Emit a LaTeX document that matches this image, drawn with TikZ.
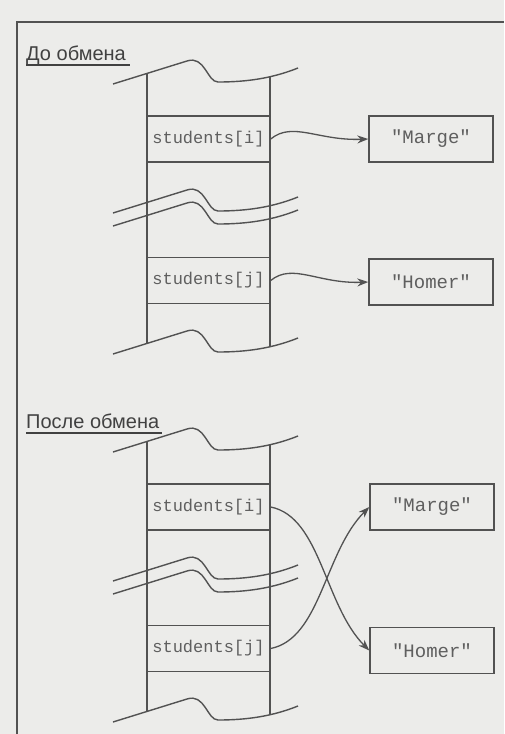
\documentclass[tikz,border=0pt]{standalone}
\usepackage{fontspec}
\setmainfont{Liberation Sans}
\setmonofont{Liberation Mono}
\usetikzlibrary{arrows.meta,positioning,calc}
\definecolor{Paper}{RGB}{236,236,234}
\definecolor{Ink}{RGB}{82,82,82}
\definecolor{MonoGray}{RGB}{95,95,95}
\definecolor{Caption}{RGB}{65,65,65}
\tikzset{
  cell/.style={draw=Ink,line width=1.4pt,minimum width=123pt,minimum height=46pt,inner sep=0pt,font=\ttfamily\fontsize{17}{17}\selectfont,text=MonoGray},
  strbox/.style={draw=Ink,line width=1.4pt,minimum width=124pt,minimum height=46pt,inner sep=0pt,font=\ttfamily\fontsize{19}{19}\selectfont,text=MonoGray},
  caption/.style={font=\fontsize{20}{20}\selectfont,text=Caption,inner sep=0pt,anchor=base west},
  uline/.style={draw=Caption,line width=1.2pt},
  column/.style={draw=Ink,line width=1.4pt},
  frame/.style={draw=Ink,line width=1.3pt},
  ref/.style={-{Stealth[length=11pt,width=8pt]},draw=Ink,line width=1.3pt},
  brk/.pic={\draw[column] (0,0) -- (74,-23) .. controls (92,-29) and (94,-2) .. (105,-2) .. controls (135,-2) and (160,-6) .. (185,-16);}
}
\begin{document}
\begin{tikzpicture}[x=1pt,y=-1pt]
\fill[Paper] (0,0) rectangle (504,734);
\useasboundingbox (0,0) rectangle (504,734);
\draw[frame] (17,734) |- (504,22);

% before the swap
\node[caption] (before) at (26,60) {До обмена};
\draw[uline] ($(before.base west)+(0,5)$) -- ($(before.base east)+(4,5)$);
\pic at (113,84) {brk};
\pic at (113,213) {brk};
\pic at (113,226) {brk};
\pic at (113,354) {brk};
\draw[column] (147,73.4) -- (147,343.4);
\draw[column] (270,76) -- (270,346);
\node[cell] (si1) at (208.5,139) {students[i]};
\node[cell] (sj1) at (208.5,280.5) {students[j]};
\node[strbox] (marge1) at (431,139) {"Marge"};
\node[strbox] (homer1) at (431,282) {"Homer"};
\draw[ref] (si1.east) .. controls +(22,-18) and +(-50,2) .. (marge1.west);
\draw[ref] (sj1.east) .. controls +(22,-18) and +(-50,2) .. (homer1.west);

% after the swap
\node[caption] (after) at (26,428) {После обмена};
\draw[uline] ($(after.base west)+(0,5)$) -- ($(after.base east)+(3,5)$);
\pic at (113,452) {brk};
\pic at (113,581) {brk};
\pic at (113,594) {brk};
\pic at (113,722) {brk};
\draw[column] (147,441.4) -- (147,711.4);
\draw[column] (270,444) -- (270,714);
\node[cell] (si2) at (208.5,507) {students[i]};
\node[cell] (sj2) at (208.5,648.5) {students[j]};
\node[strbox] (marge2) at (432,507) {"Marge"};
\node[strbox] (homer2) at (432,650.5) {"Homer"};
\draw[ref] (si2.east) .. controls +(50,10) and +(-45,-45) .. (homer2.west);
\draw[ref] (sj2.east) .. controls +(50,-10) and +(-45,45) .. (marge2.west);
\end{tikzpicture}
\end{document}
